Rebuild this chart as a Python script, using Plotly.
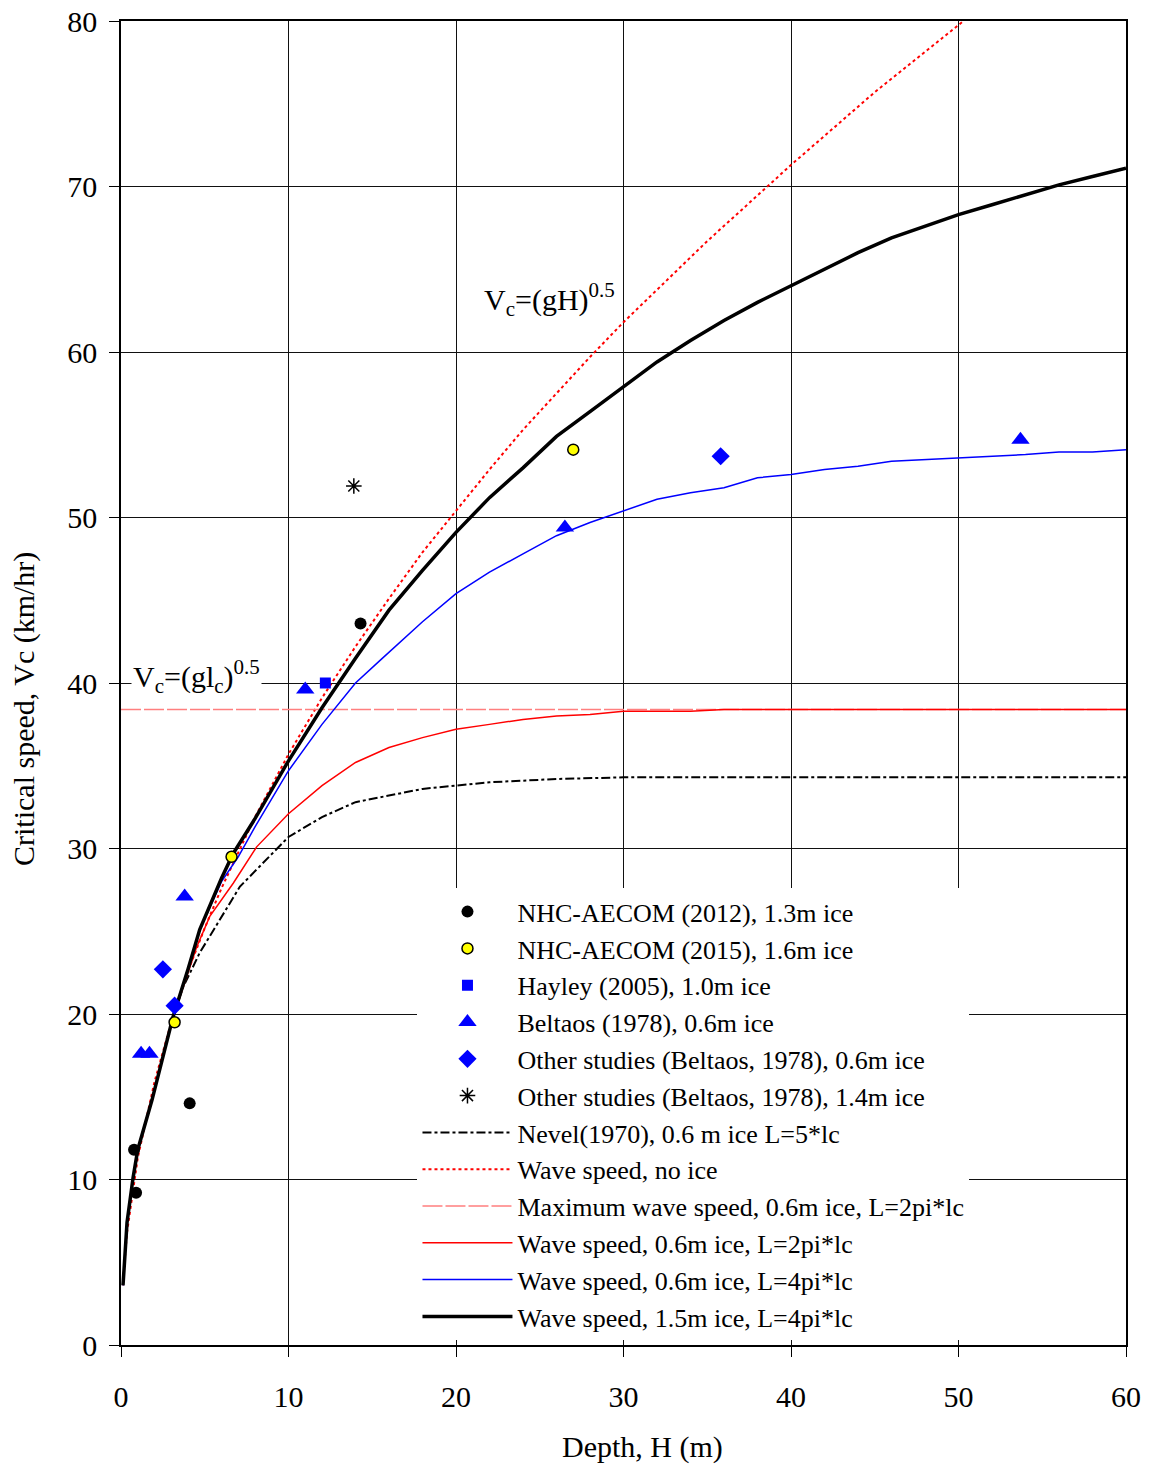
import plotly.graph_objects as go

# ---------------- data ----------------
nhc2012_x = [0.78, 0.9, 4.1, 14.3]
nhc2012_y = [11.8, 9.2, 14.6, 43.6]

nhc2015_x = [3.2, 6.6, 27.0]
nhc2015_y = [19.5, 29.5, 54.1]

hayley_x = [12.2]
hayley_y = [40.0]

beltaos_x = [1.2, 1.7, 3.8, 11.0, 26.5, 53.7]
beltaos_y = [17.6, 17.6, 27.1, 39.6, 49.4, 54.7]

other06_x = [2.5, 3.2, 35.8]
other06_y = [22.7, 20.5, 53.7]

other14_x = [13.9]
other14_y = [51.9]

nevel_x = [3.1, 3.7, 4.7, 7.1, 10, 12, 14, 16, 18, 20, 22, 26, 30, 40, 50, 60]
nevel_y = [19.8, 21.6, 23.7, 27.7, 30.7, 31.9, 32.8, 33.2, 33.6, 33.8, 34.0, 34.2, 34.3, 34.3, 34.3, 34.3]

noice_x = [0.12, 0.36, 1, 2, 3, 4, 5, 6, 8, 10, 12, 14, 16, 18, 20, 22, 24, 26, 28, 30, 35, 40, 45, 50.3]
noice_y = [3.9, 6.8, 11.3, 15.9, 19.5, 22.6, 25.2, 27.6, 31.9, 35.7, 39.1, 42.2, 45.1, 47.9, 50.4, 52.9, 55.3, 57.5, 59.7, 61.8, 66.7, 71.3, 75.7, 80.0]

maxwave_x = [0, 60]
maxwave_y = [38.4, 38.4]

red06_x = [0.12, 0.36, 0.72, 1.0, 1.85, 3.1, 4.5, 5.3, 6.7, 8.1, 10, 12, 14, 16, 18, 20, 22, 24, 26, 28, 30, 32, 34, 36, 60]
red06_y = [3.6, 7.4, 10.1, 11.8, 14.8, 19.8, 24.0, 25.9, 27.9, 30.1, 32.1, 33.8, 35.2, 36.1, 36.7, 37.2, 37.5, 37.8, 38.0, 38.1, 38.3, 38.3, 38.3, 38.4, 38.4]

blue06_x = [0.12, 0.36, 0.72, 1.0, 1.85, 3.1, 4, 4.7, 6, 7, 8, 10, 12, 14, 15.5, 18, 20, 22, 24, 26, 28, 30, 32, 34, 36, 38, 40, 42, 44, 46, 48, 50, 52, 54, 56, 58, 60]
blue06_y = [3.6, 7.4, 10.1, 11.8, 14.8, 19.8, 22.7, 25.1, 28.0, 29.5, 31.3, 34.7, 37.5, 40.0, 41.4, 43.7, 45.4, 46.7, 47.8, 48.9, 49.7, 50.4, 51.1, 51.5, 51.8, 52.4, 52.6, 52.9, 53.1, 53.4, 53.5, 53.6, 53.7, 53.8, 53.96, 53.96, 54.1]

black15_x = [0.12, 0.36, 0.72, 1.0, 1.85, 3.1, 4, 4.7, 6, 6.7, 8, 10, 12, 14, 16, 18, 20, 22, 24, 26, 28, 30, 32, 34, 36, 38, 40, 42, 44, 46, 48, 50, 52, 54, 56, 58, 60]
black15_y = [3.6, 7.4, 10.1, 11.8, 14.8, 19.8, 22.7, 25.1, 28.2, 29.7, 31.8, 35.3, 38.5, 41.5, 44.4, 46.8, 49.1, 51.2, 53.0, 54.9, 56.4, 57.9, 59.4, 60.7, 61.9, 63.0, 64.0, 65.0, 66.0, 66.9, 67.6, 68.3, 68.9, 69.5, 70.1, 70.6, 71.1]

x_ticks = [0, 10, 20, 30, 40, 50, 60]
y_ticks = [0, 10, 20, 30, 40, 50, 60, 70, 80]

FONT = "Liberation Serif, Times New Roman, serif"

fig = go.Figure()

# lines (drawn first, listed after markers in legend)
fig.add_trace(go.Scatter(x=nevel_x, y=nevel_y, mode="lines", name="Nevel(1970), 0.6 m ice L=5*lc",
                         line=dict(color="black", width=2, dash="dashdot"), legendrank=7))
fig.add_trace(go.Scatter(x=noice_x, y=noice_y, mode="lines", name="Wave speed, no ice",
                         line=dict(color="red", width=2, dash="dot"), legendrank=8))
fig.add_trace(go.Scatter(x=maxwave_x, y=maxwave_y, mode="lines", name="Maximum wave speed, 0.6m ice, L=2pi*lc",
                         line=dict(color="#ff7f7f", width=1.5, dash="20px,3px"), legendrank=9))
fig.add_trace(go.Scatter(x=red06_x, y=red06_y, mode="lines", name="Wave speed, 0.6m ice, L=2pi*lc",
                         line=dict(color="red", width=1.5), legendrank=10))
fig.add_trace(go.Scatter(x=blue06_x, y=blue06_y, mode="lines", name="Wave speed, 0.6m ice, L=4pi*lc",
                         line=dict(color="blue", width=1.5), legendrank=11))
fig.add_trace(go.Scatter(x=black15_x, y=black15_y, mode="lines", name="Wave speed, 1.5m ice, L=4pi*lc",
                         line=dict(color="black", width=3.5), legendrank=12))

# markers
fig.add_trace(go.Scatter(x=nhc2012_x, y=nhc2012_y, mode="markers", name="NHC-AECOM (2012), 1.3m ice",
                         marker=dict(symbol="circle", size=12, color="black"), legendrank=1))
fig.add_trace(go.Scatter(x=nhc2015_x, y=nhc2015_y, mode="markers", name="NHC-AECOM (2015), 1.6m ice",
                         marker=dict(symbol="circle", size=11, color="yellow", line=dict(color="black", width=1.5)),
                         legendrank=2))
fig.add_trace(go.Scatter(x=hayley_x, y=hayley_y, mode="markers", name="Hayley (2005), 1.0m ice",
                         marker=dict(symbol="square", size=11, color="blue"), legendrank=3))
fig.add_trace(go.Scatter(x=beltaos_x, y=beltaos_y, mode="markers", name="Beltaos (1978), 0.6m ice",
                         marker=dict(symbol="triangle-up", size=16, color="blue"), legendrank=4))
fig.add_trace(go.Scatter(x=other06_x, y=other06_y, mode="markers", name="Other studies (Beltaos, 1978), 0.6m ice",
                         marker=dict(symbol="diamond", size=14, color="blue"), legendrank=5))
fig.add_trace(go.Scatter(x=other14_x, y=other14_y, mode="markers", name="Other studies (Beltaos, 1978), 1.4m ice",
                         marker=dict(symbol="asterisk-open", size=13, color="black", line=dict(color="black", width=1.5)),
                         legendrank=6))

fig.update_layout(
    width=1149, height=1467,
    margin=dict(l=121, r=23, t=21, b=122, autoexpand=False),
    paper_bgcolor="white", plot_bgcolor="white",
    font=dict(family=FONT, size=26, color="black"),
    showlegend=True,
    legend=dict(x=0.295, y=0.345, xanchor="left", yanchor="top",
                bgcolor="white", borderwidth=0, font=dict(family=FONT, size=26),
                tracegroupgap=0, itemwidth=90),
    xaxis=dict(range=[0, 60], tickvals=x_ticks, showgrid=True, gridcolor="#111", gridwidth=1,
               showline=True, linecolor="black", linewidth=1.5, mirror=True, automargin=False,
               ticks="outside", ticklen=10, tickcolor="black", ticklabelstandoff=14,
               zeroline=False, tickfont=dict(size=30)),
    yaxis=dict(range=[0, 80], tickvals=y_ticks, showgrid=True, gridcolor="#111", gridwidth=1,
               showline=True, linecolor="black", linewidth=1.5, mirror=True, automargin=False,
               ticks="outside", ticklen=10, tickcolor="black", ticklabelstandoff=6,
               zeroline=False, tickfont=dict(size=30)),
    annotations=[
        dict(text="V<sub>c</sub>=(gH)<sup>0.5</sup>", x=25.6, y=63.2, xref="x", yref="y",
             showarrow=False, font=dict(family=FONT, size=30)),
        dict(text="V<sub>c</sub>=(gl<sub>c</sub>)<sup>0.5</sup>", x=4.5, y=40.4, xref="x", yref="y",
             showarrow=False, bgcolor="white", font=dict(family=FONT, size=30)),
        dict(text="Critical speed, Vc (km/hr)", x=-0.096, y=0.48, xref="paper", yref="paper",
             xanchor="center", yanchor="middle",
             textangle=-90, showarrow=False, font=dict(family=FONT, size=30)),
        dict(text="Depth, H (m)", x=0.519, y=-0.077, xref="paper", yref="paper",
             xanchor="center", yanchor="middle",
             showarrow=False, font=dict(family=FONT, size=30)),
    ],
)

fig.write_html("out.html")
